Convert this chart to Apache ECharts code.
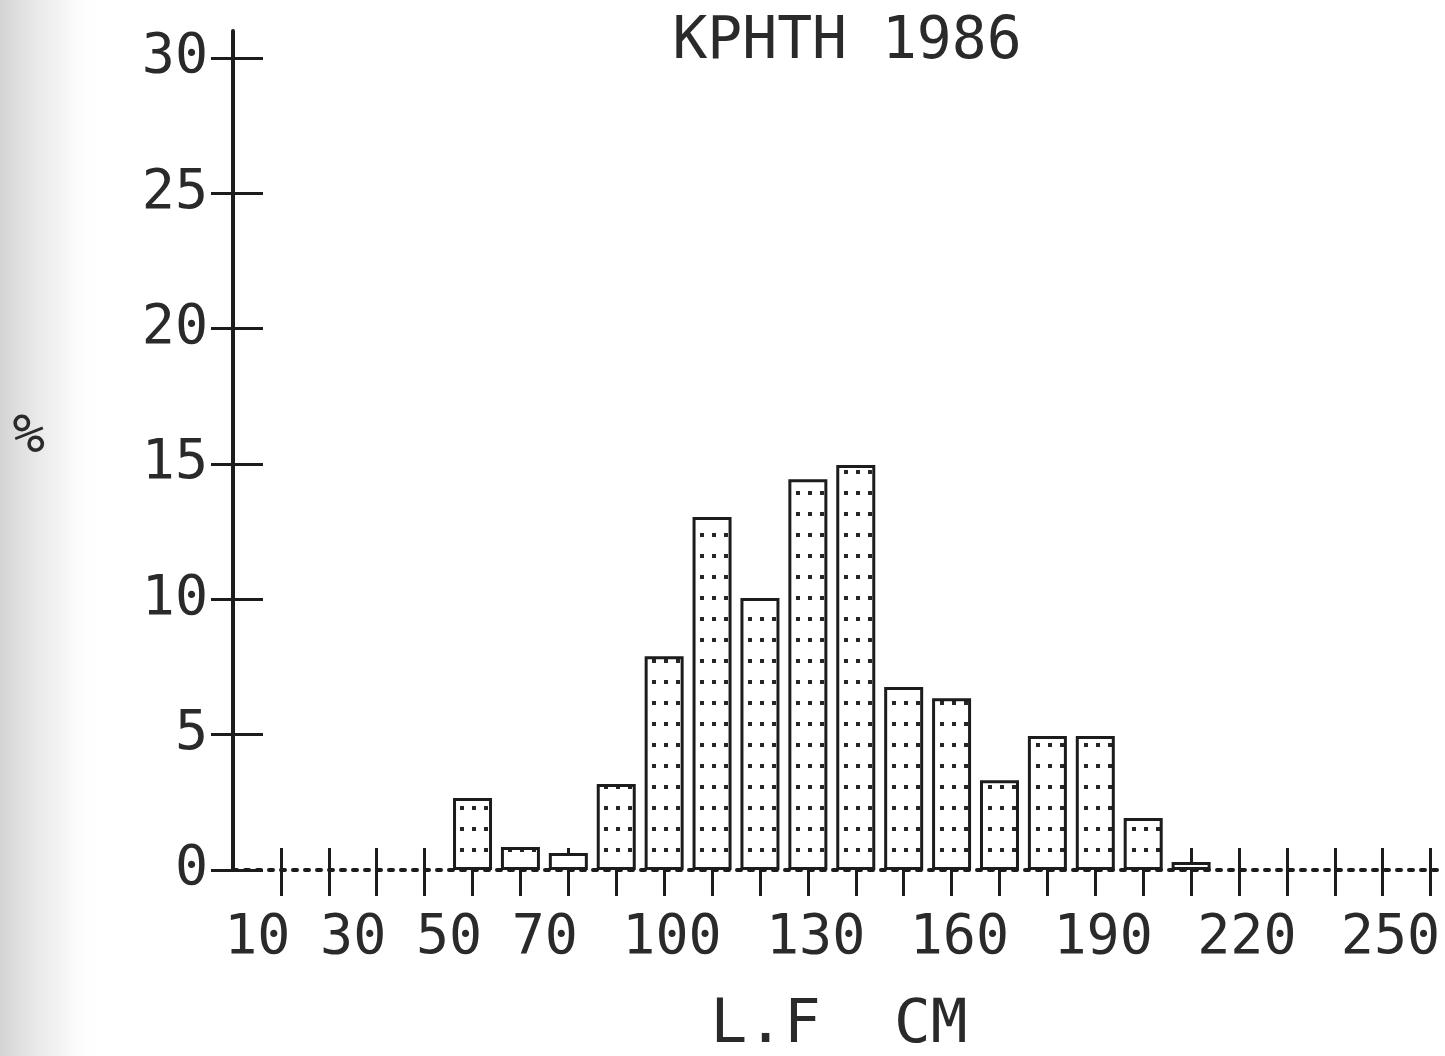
<!DOCTYPE html>
<html><head><meta charset="utf-8">
<script src="https://cdn.jsdelivr.net/npm/echarts@6/dist/echarts.min.js"></script>
<style>html,body{margin:0;padding:0;background:#fff}#c{width:1445px;height:1056px}</style>
</head><body><div id="c"></div>
<script>
// ---- data ----
const titleText = 'KPHTH 1986';
const xName = 'L.F  CM';
const yName = '%';
const classMids = [50, 60, 70, 80, 90, 100, 110, 120, 130, 140, 150, 160, 170, 180, 190, 200];
const percents  = [2.66, 0.85, 0.63, 3.18, 7.9, 13.04, 10.05, 14.44, 14.96, 6.76, 6.35, 3.32, 4.95, 4.95, 1.92, 0.3];
const xTickValues = [10, 20, 30, 40, 50, 60, 70, 80, 90, 100, 110, 120, 130, 140, 150, 160, 170, 180, 190, 200, 210, 220, 230, 240, 250];
const xLabelValues = [10, 30, 50, 70, 100, 130, 160, 190, 220, 250];
const xTickLabels = ['10', '30', '50', '70', '100', '130', '160', '190', '220', '250'];
const yTickValues = [0, 5, 10, 15, 20, 25, 30];
const yTickLabels = ['0', '5', '10', '15', '20', '25', '30'];

// ---- style ----
const INK = '#1c1c1c';
const TEXT = '#2a2a2a';
const FONT = 'DejaVu Sans Mono';
const LABEL_SHIFT = 2; // labels printed slightly right of their ticks
const X_MIN = 0, X_MAX = 253, Y_MIN = 0, Y_MAX = 31;

// dot fill pattern for the bars
const pat = document.createElement('canvas');
pat.width = 12; pat.height = 21;
const pctx = pat.getContext('2d');
pctx.fillStyle = '#ffffff'; pctx.fillRect(0, 0, 12, 21);
pctx.fillStyle = '#262626'; pctx.fillRect(4, 8, 4, 4);

const chart = echarts.init(document.getElementById('c'), null, {renderer: 'canvas'});
const shifted = xLabelValues.map(v => v + LABEL_SHIFT);

chart.setOption({
  backgroundColor: '#ffffff',
  animation: false,
  graphic: [{
    type: 'rect', z: -1, left: 0, top: 0,
    shape: {width: 100, height: 1056},
    style: {fill: new echarts.graphic.LinearGradient(0, 0, 1, 0, [
      {offset: 0, color: 'rgba(175,175,175,0.55)'},
      {offset: 0.6, color: 'rgba(215,215,215,0.3)'},
      {offset: 1, color: 'rgba(255,255,255,0)'}
    ])}
  }],
  title: {
    text: titleText, left: 842, top: 9, textAlign: 'center',
    textStyle: {fontFamily: FONT, fontSize: 58, fontWeight: 'normal', color: TEXT}
  },
  grid: {left: 233, top: 31, width: 1212, height: 839, containLabel: false, outerBoundsMode: 'none'},
  xAxis: [{
    type: 'value', min: X_MIN, max: X_MAX, position: 'bottom',
    name: xName, nameLocation: 'middle', nameGap: 126,
    nameTextStyle: {fontFamily: FONT, fontSize: 61, color: TEXT},
    axisLine: {show: true, onZero: false, lineStyle: {color: INK, width: 4, type: [4, 8]}},
    axisTick: {show: true, inside: false, length: 26, customValues: xTickValues, lineStyle: {color: INK, width: 3}},
    axisLabel: {
      show: true, customValues: shifted, align: 'right', margin: 41,
      fontFamily: FONT, fontSize: 55, color: TEXT,
      formatter: v => xTickLabels[shifted.indexOf(Math.round(v))]
    },
    splitLine: {show: false}
  }, {
    type: 'value', min: X_MIN, max: X_MAX, position: 'bottom',
    axisLine: {show: false, onZero: false},
    axisTick: {show: true, inside: true, length: 22, customValues: xTickValues, lineStyle: {color: INK, width: 3}},
    axisLabel: {show: false},
    splitLine: {show: false}
  }],
  yAxis: [{
    type: 'value', min: Y_MIN, max: Y_MAX, position: 'left',
    name: yName, nameLocation: 'middle', nameRotate: 0, nameGap: 188,
    nameTextStyle: {fontFamily: FONT, fontSize: 54, color: TEXT, verticalAlign: 'bottom', lineHeight: 26},
    axisLine: {show: true, onZero: false, lineStyle: {color: INK, width: 4}},
    axisTick: {show: true, inside: false, length: 22, customValues: yTickValues, lineStyle: {color: INK, width: 3}},
    axisLabel: {
      show: true, customValues: yTickValues, margin: 25,
      fontFamily: FONT, fontSize: 55, color: TEXT,
      formatter: v => yTickLabels[yTickValues.indexOf(Math.round(v))]
    },
    splitLine: {show: false}
  }, {
    type: 'value', min: Y_MIN, max: Y_MAX, position: 'left',
    axisLine: {show: false, onZero: false},
    axisTick: {show: true, inside: true, length: 30, customValues: yTickValues, lineStyle: {color: INK, width: 3}},
    axisLabel: {show: false},
    splitLine: {show: false}
  }],
  series: [{
    type: 'bar', xAxisIndex: 0, yAxisIndex: 0,
    data: classMids.map((m, i) => [m, percents[i]]),
    barWidth: 39,
    itemStyle: {
      color: {image: pat, repeat: 'repeat'},
      borderColor: INK, borderWidth: 3
    },
    emphasis: {disabled: true}
  }]
});
</script></body></html>
